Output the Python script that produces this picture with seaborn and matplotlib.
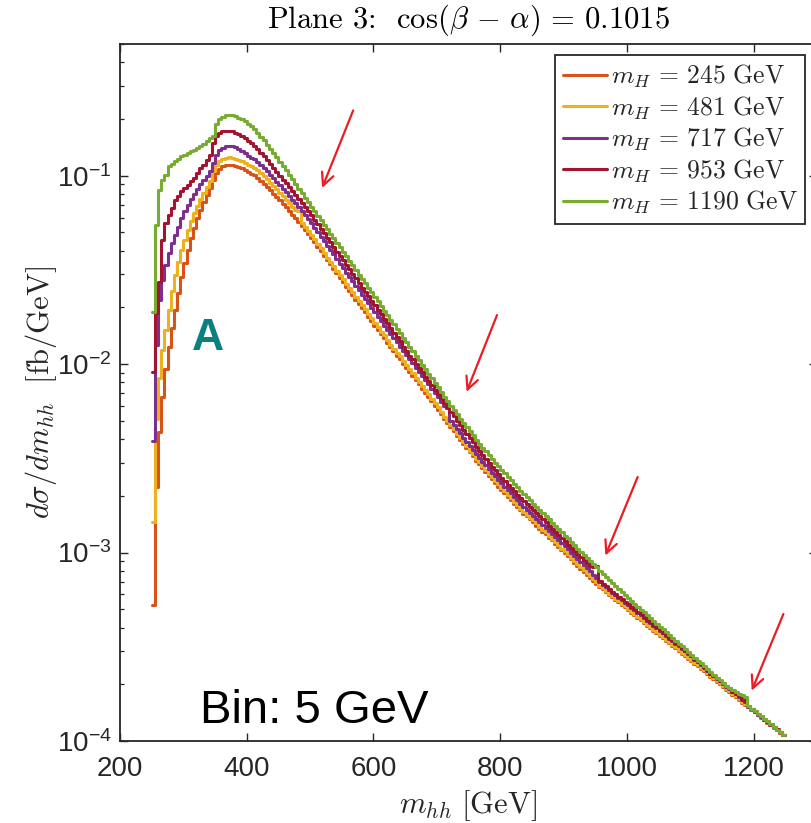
import numpy as np
import pandas as pd
import matplotlib
matplotlib.use("Agg")
import matplotlib.pyplot as plt
from matplotlib.lines import Line2D
from matplotlib.ticker import FixedLocator, FuncFormatter, LogLocator, NullFormatter, NullLocator
import seaborn as sns

# ---------------------------------------------------------------------------
# Differential cross section d(sigma)/d(m_hh) [fb/GeV] in 5 GeV bins,
# first bin starts at 250 GeV, last bin ends at 1250 GeV.
# ---------------------------------------------------------------------------
bin_width = 5.0
m_hh_range = (250.0, 1250.0)

heavy_masses = [245, 481, 717, 953, 1190]          # m_H [GeV]
series_colors = ["#D95319", "#EDB120", "#7E2F8E", "#A2142F", "#77AC30"]

dsigma_245 = [
    5.28e-4, 2.24e-3, 4.36e-3, 6.70e-3, 9.38e-3, 1.24e-2, 1.55e-2, 1.94e-2, 2.38e-2, 2.91e-2,
    3.43e-2, 4.04e-2, 4.67e-2, 5.27e-2, 5.96e-2, 6.59e-2, 7.29e-2, 7.92e-2, 8.60e-2, 9.53e-2,
    0.1033, 0.1085, 0.112, 0.114, 0.1145, 0.114, 0.113, 0.1116, 0.110, 0.1076,
    0.105, 0.1026, 0.1005, 0.0973, 0.0940, 0.0906, 0.0871, 0.0838, 0.0804, 0.0771,
    0.0740, 0.0710, 0.0681, 0.0652, 0.0622, 0.0594, 0.0568, 0.0541, 0.0515, 0.0491,
    0.0467, 0.0443, 0.0420, 0.0397, 0.0377, 0.0356, 0.0338, 0.0320, 0.0303, 0.0287,
    0.0272, 0.0258, 0.0244, 0.0232, 0.0220, 0.0208, 0.0198, 0.0188, 0.0178, 0.0169,
    0.0160, 0.0152, 0.0144, 0.0137, 0.0129, 0.0123, 0.0117, 0.0111, 0.0106, 0.0100,
    9.55e-3, 9.08e-3, 8.63e-3, 8.20e-3, 7.80e-3, 7.41e-3, 7.05e-3, 6.70e-3, 6.35e-3, 6.03e-3,
    5.72e-3, 5.42e-3, 5.14e-3, 4.88e-3, 4.62e-3, 4.40e-3, 4.17e-3, 3.96e-3, 3.76e-3, 3.58e-3,
    3.40e-3, 3.24e-3, 3.08e-3, 2.94e-3, 2.81e-3, 2.68e-3, 2.56e-3, 2.45e-3, 2.34e-3, 2.24e-3,
    2.15e-3, 2.06e-3, 1.97e-3, 1.90e-3, 1.82e-3, 1.75e-3, 1.68e-3, 1.61e-3, 1.56e-3, 1.50e-3,
    1.45e-3, 1.39e-3, 1.34e-3, 1.29e-3, 1.25e-3, 1.20e-3, 1.16e-3, 1.11e-3, 1.07e-3, 1.03e-3,
    9.93e-4, 9.55e-4, 9.20e-4, 8.85e-4, 8.53e-4, 8.20e-4, 7.91e-4, 7.60e-4, 7.33e-4, 7.05e-4,
    6.78e-4, 6.56e-4, 6.37e-4, 6.17e-4, 5.98e-4, 5.79e-4, 5.61e-4, 5.45e-4, 5.27e-4, 5.12e-4,
    4.95e-4, 4.80e-4, 4.66e-4, 4.51e-4, 4.38e-4, 4.24e-4, 4.10e-4, 3.98e-4, 3.85e-4, 3.74e-4,
    3.62e-4, 3.51e-4, 3.40e-4, 3.30e-4, 3.20e-4, 3.10e-4, 3.00e-4, 2.91e-4, 2.82e-4, 2.74e-4,
    2.65e-4, 2.56e-4, 2.49e-4, 2.41e-4, 2.34e-4, 2.26e-4, 2.19e-4, 2.13e-4, 2.06e-4, 2.00e-4,
    1.94e-4, 1.87e-4, 1.82e-4, 1.76e-4, 1.71e-4, 1.66e-4, 1.60e-4, 1.56e-4, 1.51e-4, 1.46e-4,
    1.42e-4, 1.37e-4, 1.33e-4, 1.29e-4, 1.25e-4, 1.21e-4, 1.17e-4, 1.14e-4, 1.10e-4, 1.07e-4,
]

dsigma_481 = [
    1.45e-3, 5.10e-3, 8.40e-3, 1.19e-2, 1.52e-2, 1.94e-2, 2.43e-2, 2.97e-2, 3.50e-2, 4.04e-2,
    4.57e-2, 5.17e-2, 5.72e-2, 6.34e-2, 6.92e-2, 7.52e-2, 8.09e-2, 8.71e-2, 9.33e-2, 0.1054,
    0.1145, 0.119, 0.1227, 0.124, 0.125, 0.124, 0.1227, 0.121, 0.119, 0.117,
    0.1145, 0.112, 0.1102, 0.1067, 0.1030, 0.0993, 0.0955, 0.0918, 0.0881, 0.0845,
    0.0811, 0.0778, 0.0746, 0.0715, 0.0682, 0.0659, 0.0652, 0.0560, 0.0533, 0.0508,
    0.0483, 0.0459, 0.0435, 0.0411, 0.0390, 0.0368, 0.0350, 0.0331, 0.0314, 0.0297,
    0.0282, 0.0267, 0.0253, 0.0240, 0.0228, 0.0215, 0.0205, 0.0195, 0.0184, 0.0175,
    0.0166, 0.0157, 0.0149, 0.0142, 0.0134, 0.0127, 0.0121, 0.0115, 0.0110, 0.01035,
    9.88e-3, 9.40e-3, 8.93e-3, 8.49e-3, 8.07e-3, 7.67e-3, 7.30e-3, 6.93e-3, 6.57e-3, 6.24e-3,
    5.92e-3, 5.54e-3, 5.26e-3, 4.99e-3, 4.73e-3, 4.50e-3, 4.26e-3, 4.05e-3, 3.84e-3, 3.66e-3,
    3.48e-3, 3.32e-3, 3.15e-3, 3.01e-3, 2.87e-3, 2.74e-3, 2.62e-3, 2.51e-3, 2.39e-3, 2.30e-3,
    2.20e-3, 2.11e-3, 2.02e-3, 1.94e-3, 1.86e-3, 1.79e-3, 1.71e-3, 1.65e-3, 1.59e-3, 1.53e-3,
    1.48e-3, 1.43e-3, 1.37e-3, 1.32e-3, 1.28e-3, 1.23e-3, 1.18e-3, 1.14e-3, 1.10e-3, 1.05e-3,
    1.02e-3, 9.77e-4, 9.41e-4, 9.05e-4, 8.73e-4, 8.39e-4, 8.09e-4, 7.77e-4, 7.50e-4, 7.21e-4,
    6.94e-4, 6.64e-4, 6.45e-4, 6.24e-4, 6.05e-4, 5.86e-4, 5.68e-4, 5.52e-4, 5.33e-4, 5.18e-4,
    5.01e-4, 4.86e-4, 4.72e-4, 4.56e-4, 4.43e-4, 4.29e-4, 4.15e-4, 4.03e-4, 3.90e-4, 3.78e-4,
    3.66e-4, 3.55e-4, 3.44e-4, 3.34e-4, 3.24e-4, 3.14e-4, 3.04e-4, 2.94e-4, 2.85e-4, 2.77e-4,
    2.68e-4, 2.59e-4, 2.52e-4, 2.44e-4, 2.37e-4, 2.29e-4, 2.22e-4, 2.16e-4, 2.08e-4, 2.02e-4,
    1.96e-4, 1.89e-4, 1.84e-4, 1.78e-4, 1.73e-4, 1.68e-4, 1.62e-4, 1.58e-4, 1.52e-4, 1.47e-4,
    1.43e-4, 1.38e-4, 1.34e-4, 1.30e-4, 1.26e-4, 1.22e-4, 1.18e-4, 1.15e-4, 1.11e-4, 1.08e-4,
]

dsigma_717 = [
    3.91e-3, 1.26e-2, 2.19e-2, 2.80e-2, 3.36e-2, 3.88e-2, 4.39e-2, 4.85e-2, 5.37e-2, 5.96e-2,
    6.46e-2, 7.01e-2, 7.52e-2, 8.02e-2, 8.49e-2, 9.03e-2, 9.53e-2, 0.100, 0.1054, 0.117,
    0.129, 0.1365, 0.140, 0.143, 0.144, 0.143, 0.1415, 0.139, 0.136, 0.132,
    0.128, 0.124, 0.1222, 0.1180, 0.1140, 0.1096, 0.1054, 0.1012, 0.0971, 0.0929,
    0.0891, 0.0853, 0.0819, 0.0782, 0.0746, 0.0713, 0.0681, 0.0649, 0.0618, 0.0589,
    0.0560, 0.0528, 0.0501, 0.0474, 0.0450, 0.0426, 0.0404, 0.0382, 0.0362, 0.0341,
    0.0324, 0.0306, 0.0290, 0.0275, 0.0261, 0.0246, 0.0233, 0.0221, 0.0210, 0.0199,
    0.0189, 0.0178, 0.0169, 0.0160, 0.0152, 0.0145, 0.0137, 0.0131, 0.0124, 0.0118,
    0.0112, 0.0106, 0.0101, 9.57e-3, 9.10e-3, 8.65e-3, 8.22e-3, 7.82e-3, 7.41e-3, 7.03e-3,
    6.67e-3, 6.32e-3, 6.01e-3, 5.86e-3, 5.01e-3, 4.76e-3, 4.52e-3, 4.30e-3, 4.07e-3, 3.88e-3,
    3.69e-3, 3.52e-3, 3.34e-3, 3.19e-3, 3.04e-3, 2.90e-3, 2.77e-3, 2.65e-3, 2.54e-3, 2.43e-3,
    2.33e-3, 2.23e-3, 2.14e-3, 2.06e-3, 1.97e-3, 1.89e-3, 1.82e-3, 1.75e-3, 1.69e-3, 1.63e-3,
    1.57e-3, 1.51e-3, 1.46e-3, 1.40e-3, 1.35e-3, 1.30e-3, 1.25e-3, 1.21e-3, 1.16e-3, 1.12e-3,
    1.08e-3, 1.04e-3, 9.97e-4, 9.59e-4, 9.25e-4, 8.89e-4, 8.57e-4, 8.24e-4, 7.95e-4, 7.64e-4,
    7.35e-4, 6.95e-4, 6.75e-4, 6.53e-4, 6.33e-4, 6.13e-4, 5.94e-4, 5.77e-4, 5.58e-4, 5.42e-4,
    5.24e-4, 5.08e-4, 4.93e-4, 4.78e-4, 4.64e-4, 4.49e-4, 4.34e-4, 4.21e-4, 4.08e-4, 3.96e-4,
    3.83e-4, 3.72e-4, 3.60e-4, 3.49e-4, 3.39e-4, 3.28e-4, 3.18e-4, 3.08e-4, 2.99e-4, 2.90e-4,
    2.81e-4, 2.70e-4, 2.61e-4, 2.52e-4, 2.43e-4, 2.34e-4, 2.27e-4, 2.20e-4, 2.13e-4, 2.07e-4,
    2.01e-4, 1.94e-4, 1.88e-4, 1.82e-4, 1.77e-4, 1.72e-4, 1.66e-4, 1.61e-4, 1.52e-4, 1.47e-4,
    1.43e-4, 1.38e-4, 1.34e-4, 1.30e-4, 1.26e-4, 1.22e-4, 1.18e-4, 1.15e-4, 1.11e-4, 1.08e-4,
]

dsigma_953 = [
    9.10e-3, 1.87e-2, 2.73e-2, 4.57e-2, 5.62e-2, 6.20e-2, 6.76e-2, 7.45e-2, 7.76e-2, 8.26e-2,
    8.60e-2, 8.96e-2, 9.32e-2, 9.70e-2, 0.103, 0.110, 0.1145, 0.1217, 0.129, 0.149,
    0.162, 0.169, 0.172, 0.173, 0.173, 0.172, 0.169, 0.166, 0.162, 0.158,
    0.153, 0.149, 0.1439, 0.1380, 0.1321, 0.1265, 0.1208, 0.1153, 0.1099, 0.1047,
    0.0998, 0.0953, 0.0910, 0.0869, 0.0828, 0.0789, 0.0752, 0.0716, 0.0681, 0.0649,
    0.0615, 0.0583, 0.0552, 0.0522, 0.0494, 0.0468, 0.0443, 0.0419, 0.0396, 0.0375,
    0.0355, 0.0336, 0.0318, 0.0301, 0.0285, 0.0270, 0.0255, 0.0242, 0.0229, 0.0216,
    0.0205, 0.0194, 0.0184, 0.0174, 0.0165, 0.0156, 0.0147, 0.0139, 0.0132, 0.0124,
    0.0118, 0.0111, 0.0106, 0.0100, 9.51e-3, 9.04e-3, 8.57e-3, 8.15e-3, 7.73e-3, 7.33e-3,
    6.95e-3, 6.58e-3, 6.22e-3, 5.89e-3, 5.57e-3, 5.28e-3, 5.00e-3, 4.74e-3, 4.49e-3, 4.27e-3,
    4.05e-3, 3.85e-3, 3.65e-3, 3.48e-3, 3.30e-3, 3.15e-3, 3.00e-3, 2.86e-3, 2.73e-3, 2.61e-3,
    2.50e-3, 2.39e-3, 2.29e-3, 2.20e-3, 2.11e-3, 2.03e-3, 1.95e-3, 1.88e-3, 1.81e-3, 1.74e-3,
    1.68e-3, 1.62e-3, 1.56e-3, 1.50e-3, 1.45e-3, 1.38e-3, 1.33e-3, 1.28e-3, 1.24e-3, 1.19e-3,
    1.15e-3, 1.10e-3, 1.06e-3, 1.02e-3, 9.84e-4, 9.46e-4, 9.12e-4, 8.77e-4, 8.45e-4, 8.38e-4,
    8.53e-4, 7.03e-4, 6.83e-4, 6.61e-4, 6.41e-4, 6.21e-4, 6.01e-4, 5.84e-4, 5.65e-4, 5.49e-4,
    5.31e-4, 5.15e-4, 5.00e-4, 4.83e-4, 4.70e-4, 4.55e-4, 4.40e-4, 4.27e-4, 4.13e-4, 4.01e-4,
    3.88e-4, 3.76e-4, 3.64e-4, 3.54e-4, 3.43e-4, 3.32e-4, 3.22e-4, 3.12e-4, 3.02e-4, 2.94e-4,
    2.84e-4, 2.73e-4, 2.64e-4, 2.55e-4, 2.46e-4, 2.37e-4, 2.28e-4, 2.22e-4, 2.15e-4, 2.08e-4,
    2.02e-4, 1.95e-4, 1.90e-4, 1.83e-4, 1.78e-4, 1.73e-4, 1.67e-4, 1.63e-4, 1.53e-4, 1.48e-4,
    1.44e-4, 1.39e-4, 1.35e-4, 1.31e-4, 1.27e-4, 1.23e-4, 1.19e-4, 1.16e-4, 1.12e-4, 1.08e-4,
]

dsigma_1190 = [
    0.0190, 0.0548, 0.0843, 0.0953, 0.101, 0.112, 0.116, 0.119, 0.123, 0.127,
    0.129, 0.132, 0.135, 0.1375, 0.140, 0.143, 0.148, 0.152, 0.158, 0.162,
    0.187, 0.199, 0.205, 0.209, 0.211, 0.2105, 0.207, 0.203, 0.199, 0.194,
    0.188, 0.183, 0.1766, 0.1690, 0.1614, 0.1538, 0.1462, 0.1390, 0.1318, 0.1250,
    0.1186, 0.1125, 0.1067, 0.1009, 0.0955, 0.0904, 0.0855, 0.0809, 0.0766, 0.0724,
    0.0686, 0.0649, 0.0614, 0.0581, 0.0550, 0.0520, 0.0492, 0.0466, 0.0441, 0.0417,
    0.0395, 0.0373, 0.0353, 0.0334, 0.0316, 0.0299, 0.0283, 0.0268, 0.0254, 0.0240,
    0.0227, 0.0215, 0.0203, 0.0192, 0.0182, 0.0172, 0.0163, 0.0154, 0.0146, 0.0138,
    0.0131, 0.0124, 0.0117, 0.0111, 0.0105, 9.91e-3, 9.38e-3, 8.87e-3, 8.40e-3, 7.94e-3,
    7.52e-3, 7.11e-3, 6.73e-3, 6.37e-3, 6.03e-3, 5.72e-3, 5.42e-3, 5.14e-3, 4.88e-3, 4.63e-3,
    4.41e-3, 4.19e-3, 3.98e-3, 3.79e-3, 3.61e-3, 3.44e-3, 3.29e-3, 3.14e-3, 3.00e-3, 2.87e-3,
    2.75e-3, 2.63e-3, 2.52e-3, 2.42e-3, 2.32e-3, 2.22e-3, 2.13e-3, 2.05e-3, 1.97e-3, 1.90e-3,
    1.82e-3, 1.75e-3, 1.69e-3, 1.62e-3, 1.56e-3, 1.50e-3, 1.44e-3, 1.39e-3, 1.33e-3, 1.28e-3,
    1.23e-3, 1.19e-3, 1.14e-3, 1.10e-3, 1.05e-3, 1.01e-3, 9.75e-4, 9.38e-4, 9.02e-4, 8.67e-4,
    8.34e-4, 8.02e-4, 7.73e-4, 7.45e-4, 7.18e-4, 6.92e-4, 6.67e-4, 6.43e-4, 6.19e-4, 5.97e-4,
    5.75e-4, 5.55e-4, 5.35e-4, 5.15e-4, 4.98e-4, 4.81e-4, 4.65e-4, 4.49e-4, 4.34e-4, 4.19e-4,
    4.05e-4, 3.91e-4, 3.78e-4, 3.65e-4, 3.52e-4, 3.40e-4, 3.29e-4, 3.18e-4, 3.07e-4, 2.96e-4,
    2.86e-4, 2.77e-4, 2.67e-4, 2.58e-4, 2.49e-4, 2.41e-4, 2.33e-4, 2.25e-4, 2.17e-4, 2.10e-4,
    2.03e-4, 1.96e-4, 1.91e-4, 1.86e-4, 1.82e-4, 1.78e-4, 1.75e-4, 1.72e-4, 1.53e-4, 1.48e-4,
    1.44e-4, 1.39e-4, 1.35e-4, 1.31e-4, 1.27e-4, 1.23e-4, 1.19e-4, 1.15e-4, 1.12e-4, 1.08e-4,
]

all_series = [dsigma_245, dsigma_481, dsigma_717, dsigma_953, dsigma_1190]

x_tick_values = [200, 400, 600, 800, 1000, 1200]
y_tick_values = [1e-4, 1e-3, 1e-2, 1e-1]

title_text = r"Plane 3:  $\cos(\beta\,-\,\alpha)\,=\,0.1015$"
x_label_text = r"$m_{hh}\ [\mathrm{GeV}]$"
y_label_text = r"$d\sigma/dm_{hh}\ \ [\mathrm{fb/GeV}]$"
bin_note = "Bin: 5 GeV"
panel_tag = "A"

# Arrows marking the interference kinks (tail -> head, data coordinates)
kink_arrows = [
    ((568.0, 0.222), (519.0, 0.0861)),
    ((795.0, 0.0182), (747.0, 0.00713)),
    ((1017.0, 2.52e-3), (966.0, 9.64e-4)),
    ((1247.0, 4.72e-4), (1197.0, 1.85e-4)),
]

# ---------------------------------------------------------------------------
sns.set_style("ticks")
plt.rcParams["font.family"] = ["Liberation Sans", "DejaVu Sans"]
plt.rcParams["mathtext.fontset"] = "cm"
axis_grey = "#262626"

n_bins = len(dsigma_245)
centers = m_hh_range[0] + bin_width * (np.arange(n_bins) + 0.5)

fig = plt.figure(figsize=(8.11, 8.23), dpi=100)
ax = fig.add_axes([120 / 811, 82 / 823, 697 / 811, 697 / 823])

for values, color in zip(all_series, series_colors):
    frame = pd.DataFrame({"m_hh": centers, "dsigma": values})
    sns.histplot(data=frame, x="m_hh", weights="dsigma",
                 binwidth=bin_width, binrange=m_hh_range,
                 element="step", fill=False, color=color, linewidth=2.2, ax=ax)

ax.set_yscale("log")
ax.set_xlim(200, 1300)
ax.set_ylim(1e-4, 0.5)

ax.xaxis.set_major_locator(FixedLocator(x_tick_values))
ax.xaxis.set_minor_locator(NullLocator())
ax.yaxis.set_major_locator(FixedLocator(y_tick_values))
ax.yaxis.set_minor_locator(LogLocator(base=10, subs=np.arange(2, 10)))
ax.yaxis.set_minor_formatter(NullFormatter())
ax.yaxis.set_major_formatter(FuncFormatter(
    lambda v, pos: r"$\mathdefault{10^{%d}}$" % int(round(np.log10(v)))))

ax.tick_params(axis="both", which="both", direction="in", top=True, right=True,
               colors=axis_grey, labelcolor=axis_grey)
ax.tick_params(axis="both", which="major", length=5.8, width=1.0, labelsize=20)
ax.tick_params(axis="x", which="major", pad=11)
ax.tick_params(axis="y", which="major", pad=6)
ax.tick_params(axis="y", which="minor", length=3.0, width=0.9)
for side in ["left", "right", "top", "bottom"]:
    ax.spines[side].set_visible(True)
    ax.spines[side].set_color(axis_grey)
    ax.spines[side].set_linewidth(1.3)

ax.set_xlabel(x_label_text, fontsize=22, color=axis_grey)
ax.set_ylabel(y_label_text, fontsize=22, color=axis_grey)
ax.xaxis.set_label_coords(0.5, -0.068)
ax.yaxis.set_label_coords(-0.088, 0.5)
ax.set_title(title_text, fontsize=22, pad=12, color="black", fontfamily="cmr10")

handles = [Line2D([], [], color=c, lw=2.2) for c in series_colors]
labels = [r"$m_H\,=\,%d\ \mathrm{GeV}$" % m for m in heavy_masses]
leg = ax.legend(handles, labels, loc="upper right", bbox_to_anchor=(0.983, 0.984),
                fontsize=18.5, frameon=True, fancybox=False, framealpha=1.0,
                edgecolor=axis_grey, borderaxespad=0.0, borderpad=0.3,
                labelspacing=0.16, handlelength=1.7, handletextpad=0.15)
leg.get_frame().set_linewidth(1.3)

for tail, head in kink_arrows:
    ax.annotate("", xy=head, xytext=tail,
                arrowprops=dict(arrowstyle="->,head_length=0.45,head_width=0.22",
                                color="#ec1c24", lw=1.6, mutation_scale=20,
                                shrinkA=0, shrinkB=0))

ax.text(0.126, 0.578, panel_tag, transform=ax.transAxes, ha="center", va="center",
        fontsize=32, fontweight="bold", color="#0b8080")
ax.text(0.1148, 0.0263, bin_note, transform=ax.transAxes, ha="left", va="baseline",
        fontsize=34, color="black")

fig.savefig("out.png", dpi=100)
